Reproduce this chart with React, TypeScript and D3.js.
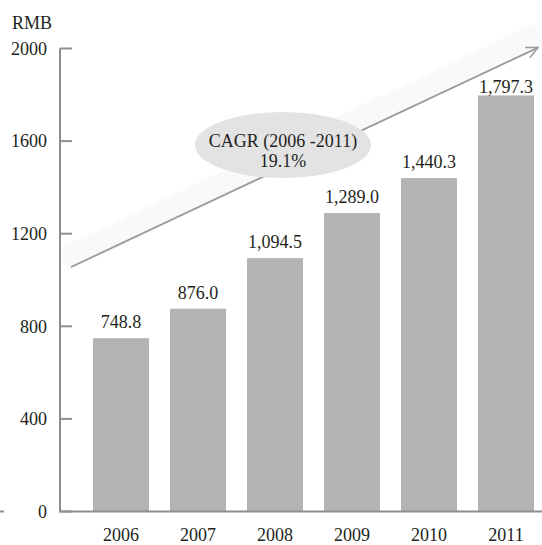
import React from "react";
import * as d3 from "d3";

const years = ["2006", "2007", "2008", "2009", "2010", "2011"];
const values = [748.8, 876.0, 1094.5, 1289.0, 1440.3, 1797.3];
const valueLabels = ["748.8", "876.0", "1,094.5", "1,289.0", "1,440.3", "1,797.3"];
const yTicks = [0, 400, 800, 1200, 1600, 2000];
const unitLabel = "RMB";
const cagrLines = ["CAGR (2006 -2011)", "19.1%"];
// trend arrow in data units: start and end value
const trendStart = 1056;
const trendEnd = 2004;

const W = 542;
const H = 545;
const FONT = "'Liberation Serif', 'Times New Roman', serif";
const TEXT = "#231f20";
const AXIS = "#8d8e90";
const BAR = "#b2b3b5";

export default function App() {
  const axisX = 60;
  const y = d3.scaleLinear().domain([0, 2000]).range([511.5, 48.5]);
  const x = d3
    .scaleBand<string>()
    .domain(years)
    .range([axisX, 567])
    .paddingInner(0.2727)
    .paddingOuter(0.4286);

  const x1 = axisX + 11;
  const y1 = y(trendStart);
  const x2 = 538;
  const y2 = y(trendEnd);
  const ang = Math.atan2(y2 - y1, x2 - x1);
  const headLen = 13;
  const headA = 0.45;
  const h1 = [x2 - headLen * Math.cos(ang - headA), y2 - headLen * Math.sin(ang - headA)];
  const h2 = [x2 - headLen * Math.cos(ang + headA), y2 - headLen * Math.sin(ang + headA)];
  const nx = Math.sin(ang);
  const ny = -Math.cos(ang);
  const bandW = 24;
  const band = [
    [x1 - 3, y1 + 4],
    [x2 + 6, y2 - 2],
    [x2 + 6 + nx * bandW, y2 - 2 + ny * bandW],
    [x1 - 3 + nx * bandW, y1 + 4 + ny * bandW],
  ];

  const ex = 283;
  const ey = 145;

  return (
    <svg
      width={W}
      height={H}
      style={{ position: "absolute", left: 0, top: 0, background: "#fff" }}
      fontFamily={FONT}
    >
      <polygon
        points={band.map((p) => p.join(",")).join(" ")}
        fill="#f9f9f9"
      />
      <line x1={x1} y1={y1} x2={x2} y2={y2} stroke="#9a9a9c" strokeWidth={1.8} />
      <polyline
        points={`${h1[0]},${h1[1]} ${x2},${y2} ${h2[0]},${h2[1]}`}
        fill="none"
        stroke="#9a9a9c"
        strokeWidth={1.5}
      />
      <ellipse cx={ex} cy={ey} rx={88} ry={33} fill="#e3e3e4" />
      <text x={ex} y={147} textAnchor="middle" fontSize={18} fill={TEXT}>
        {cagrLines[0]}
      </text>
      <text x={ex} y={167} textAnchor="middle" fontSize={18} fill={TEXT}>
        {cagrLines[1]}
      </text>

      {years.map((yr, i) => (
        <rect
          key={yr}
          x={x(yr)}
          y={y(values[i])}
          width={x.bandwidth()}
          height={y(0) - y(values[i])}
          fill={BAR}
        />
      ))}
      {years.map((yr, i) => (
        <text
          key={"v" + yr}
          x={(x(yr) as number) + x.bandwidth() / 2}
          y={Math.max(y(values[i]) - 10, y(2000) + 44)}
          textAnchor="middle"
          fontSize={18}
          fill={TEXT}
        >
          {valueLabels[i]}
        </text>
      ))}
      {years.map((yr) => (
        <text
          key={"x" + yr}
          x={(x(yr) as number) + x.bandwidth() / 2}
          y={541}
          textAnchor="middle"
          fontSize={18}
          fill={TEXT}
        >
          {yr}
        </text>
      ))}

      <line x1={axisX} y1={y(2000)} x2={axisX} y2={y(0)} stroke={AXIS} strokeWidth={2} />
      <line x1={axisX - 1} y1={y(0)} x2={W} y2={y(0)} stroke={AXIS} strokeWidth={2} />
      <line x1={0} y1={y(0)} x2={4} y2={y(0)} stroke={AXIS} strokeWidth={2} />
      {yTicks.map((t) => (
        <g key={t}>
          <line x1={axisX} y1={y(t)} x2={axisX + 12} y2={y(t)} stroke={AXIS} strokeWidth={2} />
          <text
            x={47}
            y={y(t)}
            dy="0.35em"
            textAnchor="end"
            fontSize={18}
            fill={TEXT}
          >
            {t}
          </text>
        </g>
      ))}
      <text x={12} y={29} fontSize={18} fill={TEXT}>
        {unitLabel}
      </text>
    </svg>
  );
}
